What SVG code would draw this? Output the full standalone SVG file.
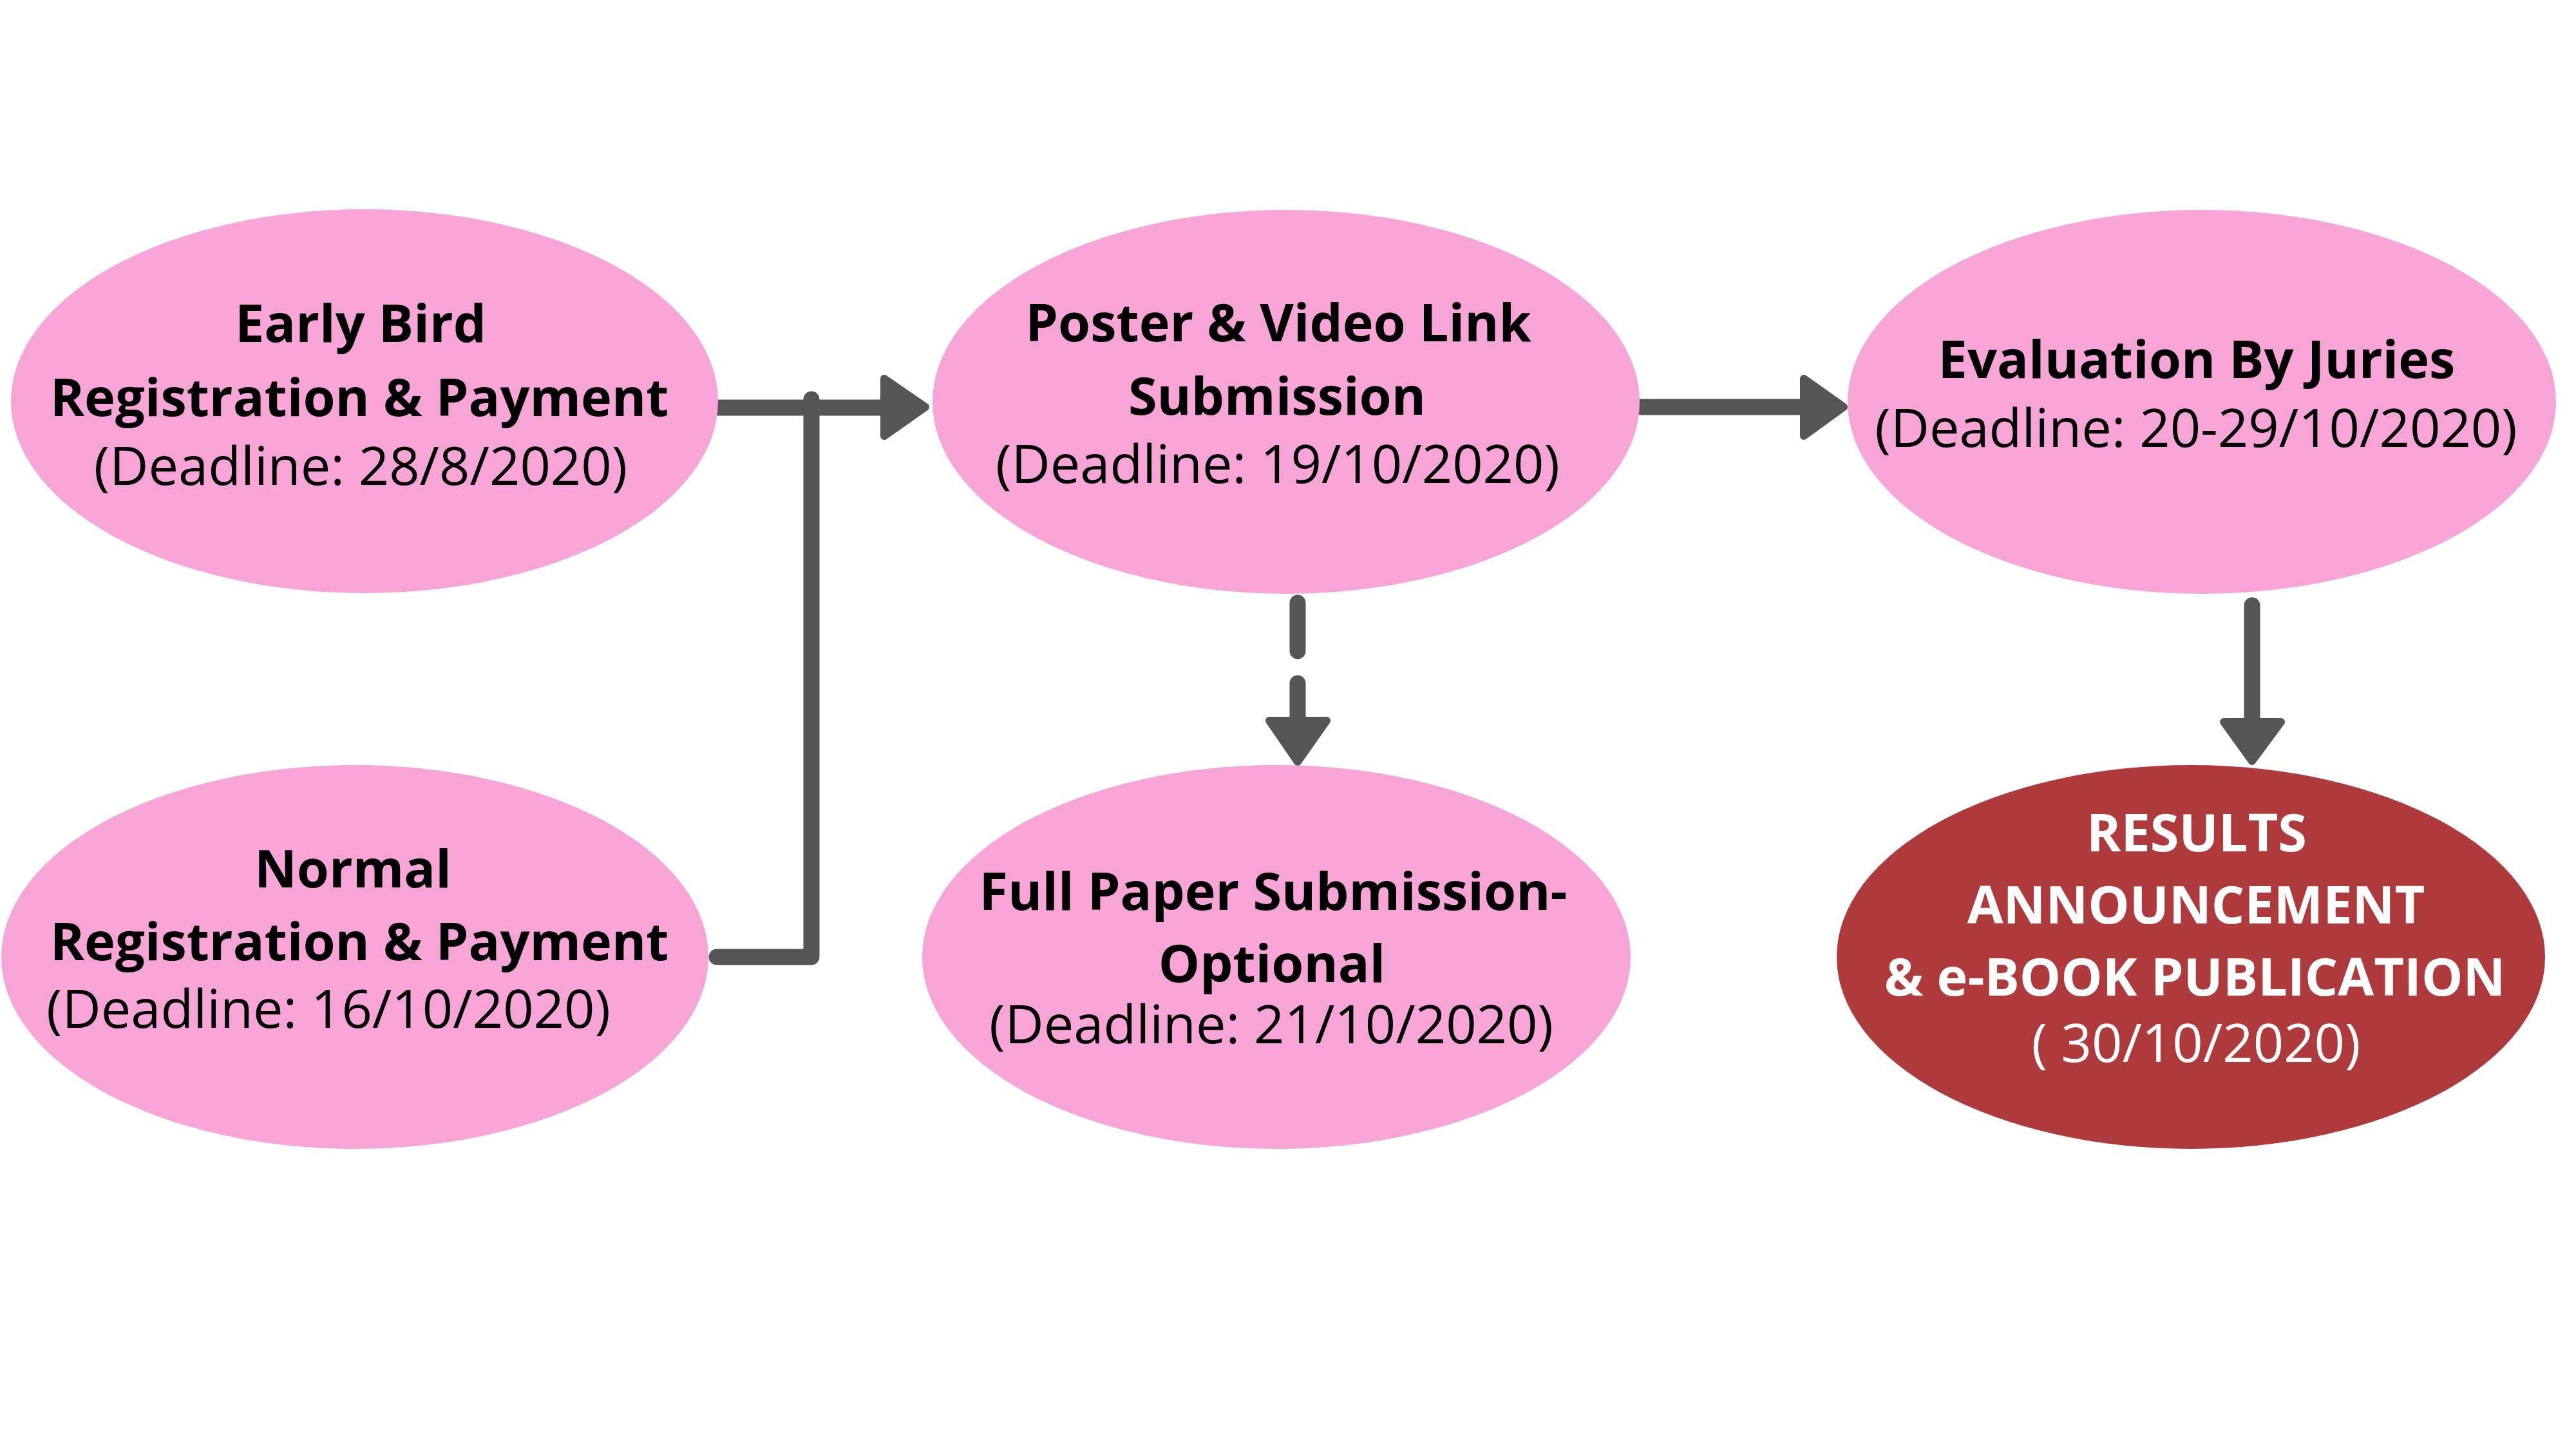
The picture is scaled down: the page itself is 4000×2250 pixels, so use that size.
<svg xmlns="http://www.w3.org/2000/svg" width="4000" height="2250" viewBox="0 0 4000 2250">
<style>
.pink{fill:#F6A5D6}
.red{fill:#AE3A3B}
.b{font-family:"Open Sans","Liberation Sans",sans-serif;font-weight:bold;font-size:81px;text-anchor:middle;fill:#000}
.r{font-family:"Open Sans","Liberation Sans",sans-serif;font-weight:normal;font-size:83px;text-anchor:middle;fill:#000}
.w{fill:#fff}
.ln{fill:none;stroke:#555555;stroke-width:25;stroke-linecap:round;stroke-linejoin:round}
.ah{fill:#555555;stroke:#555555;stroke-width:12;stroke-linejoin:round}
</style>
<rect width="4000" height="2250" fill="#ffffff"/>
<g id="connectors">
<path class="ln" d="M1115 633 H1380"/>
<path class="ln" d="M1260 620 V1486 H1113"/>
<polygon class="ah" points="1373,588 1373,677 1437,632"/>
<path class="ln" d="M2548 632 H2805"/>
<polygon class="ah" points="2801,588 2801,677 2863,632"/>
<path class="ln" d="M2015 936 V1011"/>
<path class="ln" d="M2015 1061 V1125"/>
<polygon class="ah" points="1971,1119 2060,1119 2015,1183"/>
<path class="ln" d="M3497 940 V1125"/>
<polygon class="ah" points="3453,1121 3542,1121 3497,1182"/>
</g>
<g id="early-bird">
<ellipse class="pink" cx="566" cy="623" rx="549" ry="298"/>
<text class="b" x="560" y="531">Early Bird</text>
<text class="b" x="558" y="646">Registration &amp; Payment</text>
<text class="r" x="560" y="753">(Deadline: 28/8/2020)</text>
</g>
<g id="normal">
<ellipse class="pink" cx="551" cy="1486" rx="549" ry="298"/>
<text class="b" x="548" y="1378">Normal</text>
<text class="b" x="558" y="1491">Registration &amp; Payment</text>
<text class="r" x="510" y="1596">(Deadline: 16/10/2020)</text>
</g>
<g id="poster">
<ellipse class="pink" cx="1997" cy="624" rx="549" ry="298"/>
<text class="b" x="1985" y="530">Poster &amp; Video Link</text>
<text class="b" x="1983" y="644">Submission</text>
<text class="r" x="1984" y="750">(Deadline: 19/10/2020)</text>
</g>
<g id="full-paper">
<ellipse class="pink" cx="1982" cy="1486" rx="550" ry="298"/>
<text class="b" x="1977" y="1413">Full Paper Submission-</text>
<text class="b" x="1975" y="1525">Optional</text>
<text class="r" x="1974" y="1620">(Deadline: 21/10/2020)</text>
</g>
<g id="evaluation">
<ellipse class="pink" cx="3419" cy="624" rx="550" ry="298"/>
<text class="b" x="3411" y="587">Evaluation By Juries</text>
<text class="r" x="3410" y="694">(Deadline: 20-29/10/2020)</text>
</g>
<g id="results">
<ellipse class="red" cx="3402" cy="1486" rx="550" ry="298"/>
<text class="b w" x="3411" y="1322">RESULTS</text>
<text class="b w" x="3410" y="1434">ANNOUNCEMENT</text>
<text class="b w" x="3408" y="1546">&amp; e-BOOK PUBLICATION</text>
<text class="r w" x="3410" y="1649">( 30/10/2020)</text>
</g>
</svg>
